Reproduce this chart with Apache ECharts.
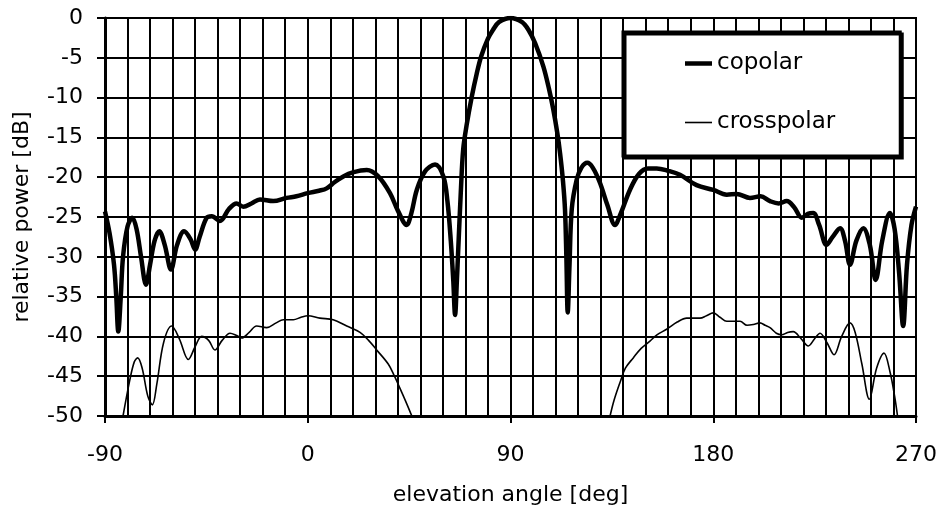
<!DOCTYPE html>
<html>
<head>
<meta charset="utf-8">
<script src="https://cdn.jsdelivr.net/npm/echarts@6/dist/echarts.min.js"></script>
<style>
html,body{margin:0;padding:0;background:#fff;}
#chart{width:944px;height:512px;}
</style>
</head>
<body>
<div id="chart"></div>
<script>
// ---- data ----
const copolarAngle = [-90,-88,-86,-85,-84.1,-83,-82,-80,-77.9,-76,-74,-71.8,-70,-68,-65.9,-63.5,-60.7,-58,-54.9,-52,-50,-48,-44.9,-42.6,-39,-35,-31.6,-28.6,-25,-21.2,-15.3,-9.4,-5,0,5,8.4,12,15.8,20,26.2,31.3,36.5,40,43.9,46,48.4,52,56.5,60.2,62,63.5,64.6,65.4,66.2,66.8,68,69,70.5,72.8,75,77,80,82.2,85,90,95,98,101,104.6,107,109,110.8,112,113.3,114.2,114.8,115.4,116.2,117.2,119.4,121.5,124.1,126.5,129.7,133,136.4,139,143,147,151,154.9,160,165.2,172.6,180,186,190.4,196.3,201,205.2,209,212.6,216,219.3,222,224.4,227,230.3,233,236.3,238.5,240.7,243.5,246.6,249.5,252.1,255,258.4,260.5,262.5,264.3,266,268,270];
const copolarDb = [-24.3,-27,-31,-35,-39.4,-35,-30,-26.2,-25.1,-26.5,-30,-33.5,-31,-28,-26.8,-28.5,-31.6,-28.5,-26.8,-27.8,-29.1,-27.5,-25.1,-24.9,-25.5,-24,-23.3,-23.7,-23.3,-22.8,-23.0,-22.6,-22.4,-22.0,-21.7,-21.4,-20.6,-19.9,-19.4,-19.1,-19.9,-22.0,-24.2,-26.0,-24.5,-21.6,-19.3,-18.4,-19.9,-23,-28,-33,-37.3,-33,-29.1,-21.5,-16.5,-13.5,-9.9,-7,-4.8,-2.6,-1.5,-0.5,0,-0.5,-1.5,-3.2,-6.1,-8.8,-11.5,-14.5,-17,-20.5,-24.1,-30,-37.0,-31,-24,-20.3,-18.8,-18.2,-18.8,-20.7,-23.5,-26,-24.5,-21.6,-19.6,-18.9,-18.9,-19.2,-19.7,-21.0,-21.6,-22.2,-22.1,-22.6,-22.4,-23.0,-23.3,-23.0,-23.8,-25.1,-24.6,-24.5,-26,-28.5,-27.5,-26.4,-28,-31,-28,-26.4,-28.5,-32.9,-28,-24.5,-26.5,-32,-38.7,-31,-26,-23.7];

const crossAngle = [-82,-79,-77,-75.5,-73.5,-71,-69,-67,-64,-60.4,-57,-53,-50,-47.1,-44,-41.2,-38,-34.5,-31.5,-29.3,-26,-22.7,-18.2,-14,-10.9,-6.4,-3,0,5.4,11.3,17.3,23.2,27,30.6,35.8,38.5,40.9,44,46.2,90,134.2,136,138.6,141,144.5,148,151.9,155,159.3,164,168.2,174.1,177,180,183,186,191.9,195,197.8,200.7,203,205.2,208,210.4,213,215.5,219,222.2,225,227.4,230.5,233.6,237,240.7,243,246,249.3,252.5,255.8,258.5,260.5,261.8];
const crossDb = [-50,-45.5,-43.2,-42.7,-44,-47.5,-48.6,-46,-40.8,-38.7,-40.3,-42.9,-41.3,-40.0,-40.5,-41.7,-40.5,-39.6,-39.9,-40.2,-39.5,-38.7,-38.9,-38.3,-37.9,-37.9,-37.6,-37.4,-37.7,-37.9,-38.7,-39.5,-40.5,-41.7,-43.5,-45,-46.5,-48.5,-50,null,-50,-48,-45.8,-44,-42.7,-41.5,-40.6,-39.8,-39.1,-38.2,-37.7,-37.7,-37.4,-37.05,-37.6,-38.1,-38.1,-38.6,-38.5,-38.3,-38.6,-38.9,-39.6,-39.8,-39.5,-39.4,-40.3,-41.2,-40.3,-39.6,-40.8,-42.3,-40,-38.3,-39.5,-43.5,-47.9,-44,-42.1,-44.5,-47.5,-50];

const xTickLabels = [-90, 0, 90, 180, 270];
const yTickLabels = [-50, -45, -40, -35, -30, -25, -20, -15, -10, -5, 0];
const seriesNames = ['copolar', 'crosspolar'];

const pair = (xs, ys) => xs.map((x, i) => [x, ys[i]]);

const FONT = 'DejaVu Sans';
const chart = echarts.init(document.getElementById('chart'), null, {renderer: 'canvas'});
chart.setOption({
  backgroundColor: '#ffffff',
  animation: false,
  grid: {left: 105, right: 28, top: 18, bottom: 96, show: true, borderColor: '#000', borderWidth: 2},
  legend: {
    orient: 'vertical',
    left: 623, top: 32,
    padding: [20, 65, 22, 62],
    itemGap: 36,
    itemWidth: 27, itemHeight: 14,
    symbolKeepAspect: true,
    backgroundColor: '#fff',
    borderColor: '#000', borderWidth: 3,
    shadowColor: '#000', shadowOffsetX: 2, shadowOffsetY: 2, shadowBlur: 0,
    textStyle: {fontFamily: FONT, fontSize: 23, color: '#000'},
    data: [
      {name: seriesNames[0], icon: 'path://M0,0H27V4.5H0Z'},
      {name: seriesNames[1], icon: 'path://M0,0H27V1.6H0Z'}
    ]
  },
  xAxis: {
    type: 'value',
    min: xTickLabels[0], max: xTickLabels[xTickLabels.length - 1], interval: 90,
    axisLine: {show: true, onZero: false, lineStyle: {color: '#000', width: 3}},
    axisTick: {show: true, length: 7, inside: false, lineStyle: {color: '#000', width: 2}},
    minorTick: {show: true, splitNumber: 9, length: 0, lineStyle: {color: '#000', width: 0, opacity: 0}},
    splitLine: {show: true, lineStyle: {color: '#000', width: 2}},
    minorSplitLine: {show: true, lineStyle: {color: '#000', width: 2}},
    axisLabel: {fontFamily: FONT, fontSize: 22, color: '#000', margin: 28},
    name: 'elevation angle [deg]',
    nameLocation: 'middle', nameGap: 68,
    nameTextStyle: {fontFamily: FONT, fontSize: 22, color: '#000'}
  },
  yAxis: {
    type: 'value',
    min: yTickLabels[0], max: yTickLabels[yTickLabels.length - 1], interval: 5,
    axisLine: {show: true, onZero: false, lineStyle: {color: '#000', width: 3}},
    axisTick: {show: true, length: 8, inside: false, lineStyle: {color: '#000', width: 2}},
    splitLine: {show: true, lineStyle: {color: '#000', width: 2}},
    axisLabel: {fontFamily: FONT, fontSize: 22, color: '#000', margin: 22},
    name: 'relative power [dB]',
    nameLocation: 'middle', nameGap: 72,
    nameTextStyle: {fontFamily: FONT, fontSize: 22, color: '#000'}
  },
  series: [
    {
      name: seriesNames[0], type: 'line', data: pair(copolarAngle, copolarDb),
      showSymbol: false, symbol: 'none', smooth: 0.35,
      lineStyle: {color: '#000', width: 4.5}, itemStyle: {color: '#000'}, z: 5
    },
    {
      name: seriesNames[1], type: 'line', data: pair(crossAngle, crossDb),
      showSymbol: false, symbol: 'none', smooth: 0.35, connectNulls: false,
      lineStyle: {color: '#000', width: 1.6}, itemStyle: {color: '#000'}, z: 4
    }
  ]
});
</script>
</body>
</html>
